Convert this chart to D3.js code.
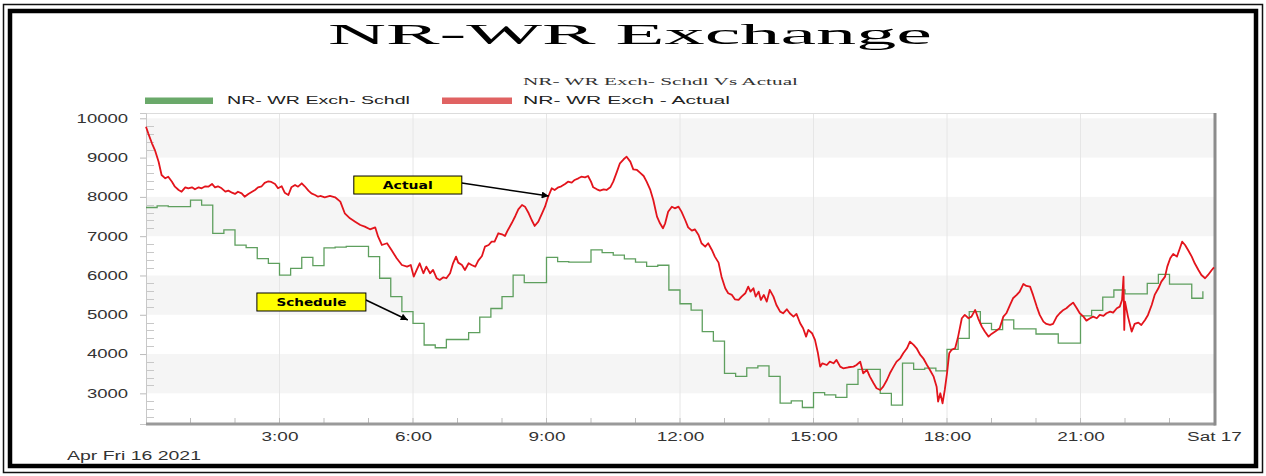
<!DOCTYPE html>
<html><head><meta charset="utf-8">
<script src="https://cdn.jsdelivr.net/npm/d3@7"></script>
<style>body{margin:0;background:#fff;} svg{display:block;}</style>
</head><body>
<svg id="chart" width="1266" height="476"></svg>
<script>
// ---------------- data ----------------
const chartTitle = "NR-WR Exchange";
const chartSubtitle = "NR- WR Exch- Schdl Vs Actual";
const seriesNames = ["NR- WR Exch- Schdl", "NR- WR Exch - Actual"];
const dateLabel = "Apr Fri 16 2021";

// schedule: one value per 15-minute block, starting 00:00
const schedValues = [
  7730,7770,7750,7750,7920,7790,7070,7160,6770,6710,6430,6310,
  6010,6180,6460,6250,6700,6720,6740,6740,6480,5930,5460,5080,
  4780,4230,4160,4370,4370,4545,4940,5160,5460,6010,5820,5820,
  6460,6350,6340,6340,6650,6580,6520,6420,6340,6230,6260,5630,
  5280,5120,4570,4330,3510,3430,3650,3700,3430,2750,2810,2640,
  3020,2960,2900,3230,3610,3610,3000,2700,3770,3610,3640,3570,
  4120,4400,5080,4780,4620,4870,4640,4640,4510,4510,4280,4280,
  4970,5110,5450,5630,5530,5530,5800,6030,5780,5780,5420,5600
];
const schedBlockMinutes = 15;

// actual: minutes from 00:00 and MW values
const actualMinutes = [
  0,3,8,12,17,21,26,30,35,39,44,48,53,57,62,66,71,75,80,84,89,93,97,102,107,111,116,120,124,129,
  133,138,143,147,151,156,160,165,169,174,178,183,187,192,196,201,205,210,214,219,223,228,232,235,
  241,248,255,262,268,275,282,289,295,302,309,313,318,325,331,338,345,352,357,361,365,369,374,378,
  383,387,392,396,401,405,410,414,418,421,426,430,435,439,444,448,453,457,462,466,470,475,480,484,
  488,493,498,502,507,511,516,520,524,529,534,538,542,547,551,556,560,565,569,574,578,583,587,592,
  596,600,603,608,612,617,621,626,630,635,639,644,648,653,657,662,666,671,675,680,684,687,689,693,
  697,700,704,709,713,718,722,727,731,736,740,745,749,754,758,763,767,772,776,781,785,790,794,799,
  803,808,812,815,819,822,826,829,833,837,841,846,850,855,859,864,868,873,877,882,886,890,893,898,
  902,906,909,912,918,922,927,931,936,940,947,954,958,963,967,972,976,981,985,990,994,999,1003,1008,
  1012,1017,1021,1026,1030,1035,1039,1044,1048,1053,1057,1062,1066,1068,1071,1074,1077,1080,1083,1086,
  1091,1095,1100,1104,1109,1113,1118,1122,1127,1131,1136,1140,1145,1151,1156,1160,1165,1169,1174,1178,
  1183,1187,1192,1196,1201,1205,1210,1214,1219,1223,1228,1232,1237,1241,1246,1250,1255,1259,1264,1268,
  1273,1277,1282,1286,1291,1295,1300,1304,1309,1313,1316,1318,1319,1320,1324,1329,1333,1338,1342,1347,
  1351,1356,1360,1365,1369,1374,1377,1381,1385,1390,1394,1397,1401,1405,1410,1414,1419,1423,1428,1432,
  1437,1440
];
const actualValues = [
  9786,9618,9364,9193,8896,8557,8473,8514,8387,8260,8176,8132,8244,8218,8244,8193,8244,8218,8270,8260,8329,8244,8270,8218,8132,8160,8107,8075,8132,8090,
  8005,8075,8132,8176,8244,8270,8356,8397,8380,8329,8218,8270,8107,8049,8244,8303,8260,8346,8270,8160,8090,8049,8005,8023,
  7990,8023,7990,7878,7583,7455,7370,7285,7242,7175,7225,6987,6776,6820,6649,6437,6267,6225,6267,5970,6140,6310,6056,6225,
  6056,6140,5929,5886,5954,5929,6056,6310,6480,6327,6267,6140,6310,6267,6225,6378,6497,6733,6776,6860,6860,7074,7048,7005,
  7158,7328,7514,7684,7794,7751,7583,7412,7260,7370,7583,7751,7990,8219,8176,8244,8270,8329,8387,8363,8431,8473,8514,8497,
  8531,8387,8244,8193,8160,8193,8176,8244,8387,8642,8855,8957,9023,8897,8702,8685,8617,8531,8387,8176,7920,7667,7497,7328,
  7200,7328,7624,7751,7709,7751,7624,7412,7226,7141,7175,7031,6820,6733,6820,6649,6480,6327,5970,5674,5547,5505,5394,5377,
  5462,5547,5716,5590,5674,5462,5590,5377,5505,5335,5632,5462,5250,5080,5038,5140,5038,4952,5021,4784,4657,4444,4614,4530,
  4360,4020,3680,3765,3722,3807,3765,3850,3680,3638,3664,3680,3722,3807,3511,3595,3425,3256,3129,3086,3171,3340,3511,3680,
  3807,3892,4020,4147,4317,4232,4147,3977,3892,3722,3595,3425,3171,2790,3002,2748,3086,3511,4020,4105,
  4147,4444,4911,4996,4911,4953,5123,4911,4699,4572,4444,4512,4572,4656,4953,5038,5250,5420,5505,5590,
  5784,5733,5716,5505,5208,4996,4826,4767,4741,4767,4953,5038,5123,5165,5250,5310,5165,5038,4953,4851,
  4911,4953,4911,4996,4970,5038,5080,5055,5165,5208,5377,5970,4614,5335,4953,4572,4767,4801,4741,4868,
  4996,5250,5505,5674,5843,5970,6225,6437,6547,6480,6692,6860,6776,6649,6480,6310,6140,6013,5929,6013,
  6140,6208
];

const yTickValues = [3000,4000,5000,6000,7000,8000,9000,10000];
const xTickMinutes = [180,360,540,720,900,1080,1260,1440];
const xTickLabels = ["3:00","6:00","9:00","12:00","15:00","18:00","21:00","Sat 17"];
const bandRanges = [[9000,10000],[7000,8000],[5000,6000],[3000,4000]];

// annotations: label, box centre (minutes, value), arrow tip (minutes, value)
const annotations = [
  {label:"Actual",   box:[353, 8302], tip:[543, 8022], w:108, h:18, textW:50},
  {label:"Schedule", box:[223, 5325], tip:[353, 4868], w:109, h:18, textW:70}
];

// ---------------- drawing ----------------
const svg = d3.select("#chart");
const W = 1266, H = 476;
const plot = {left:146, right:1214, top:113, bottom:424};
const sansFont = "'Liberation Sans', Arial, sans-serif";
const serifFont = "'Liberation Serif', 'Times New Roman', serif";

const x = d3.scaleLinear().domain([0, 1440]).range([plot.left, plot.right]);
const y = d3.scaleLinear().domain([2220, 10135]).range([plot.bottom, plot.top]);

function fitWidth(sel, w) {
  sel.attr("textLength", w).attr("lengthAdjust", "spacingAndGlyphs");
}
function stretch(sel, f) {
  sel.each(function(){
    const w = this.getComputedTextLength();
    this.setAttribute("textLength", w * f);
    this.setAttribute("lengthAdjust", "spacingAndGlyphs");
  });
}

svg.append("rect").attr("width", W).attr("height", H).attr("fill", "#fff");

// frame
svg.append("rect").attr("x", 3.5).attr("y", 4.5).attr("width", W - 7).attr("height", H - 8)
  .attr("fill", "none").attr("stroke", "#111").attr("stroke-width", 1.5);
svg.append("rect").attr("x", 10).attr("y", 11).attr("width", W - 20).attr("height", H - 21)
  .attr("fill", "none").attr("stroke", "#000").attr("stroke-width", 4.5);

// bands
svg.append("g").selectAll("rect").data(bandRanges).join("rect")
  .attr("x", plot.left).attr("width", plot.right - plot.left)
  .attr("y", d => y(d[1])).attr("height", d => y(d[0]) - y(d[1]))
  .attr("fill", "#f5f5f5");

// vertical grid
svg.append("g").selectAll("line").data(xTickMinutes.slice(0, -1)).join("line")
  .attr("x1", d => x(d)).attr("x2", d => x(d))
  .attr("y1", plot.top).attr("y2", plot.bottom)
  .attr("stroke", "#e6e6e6").attr("stroke-width", 1);

// top border line
svg.append("line").attr("x1", plot.left).attr("x2", plot.right)
  .attr("y1", plot.top + 0.5).attr("y2", plot.top + 0.5).attr("stroke", "#dcdcdc");

// minor y ticks (inside)
const yMinor = d3.range(2400, 10001, 200).filter(v => v % 1000 !== 0);
svg.append("g").selectAll("line").data(yMinor).join("line")
  .attr("x1", plot.left).attr("x2", plot.left + 8)
  .attr("y1", d => Math.round(y(d)) + 0.5).attr("y2", d => Math.round(y(d)) + 0.5)
  .attr("stroke", "#c8c8c8");

// minor x ticks (hourly, inside)
const xMinor = d3.range(60, 1440, 60);
svg.append("g").selectAll("line").data(xMinor).join("line")
  .attr("x1", d => x(d)).attr("x2", d => x(d))
  .attr("y1", plot.bottom - 6).attr("y2", plot.bottom)
  .attr("stroke", "#bdbdbd");

// y axis
const yAxis = svg.append("g").attr("transform", `translate(${plot.left},0)`)
  .call(d3.axisLeft(y).tickValues(yTickValues).tickFormat(d3.format("d")).tickSize(6).tickPadding(12));
yAxis.select(".domain").attr("stroke", "#c8c8c8");
yAxis.selectAll(".tick line").attr("stroke", "#bbb");
yAxis.selectAll("text").attr("font-family", sansFont).attr("font-size", 12).attr("fill", "#333");
stretch(yAxis.selectAll("text"), 1.54);

// x axis
const xAxis = svg.append("g").attr("transform", `translate(0,${plot.bottom})`)
  .call(d3.axisBottom(x).tickValues(xTickMinutes).tickFormat((d, i) => xTickLabels[i]).tickSize(0).tickPadding(8));
xAxis.select(".domain").remove();
xAxis.selectAll("text").attr("font-family", sansFont).attr("font-size", 12).attr("fill", "#333");
stretch(xAxis.selectAll("text"), 1.58);
svg.append("line").attr("x1", plot.left).attr("x2", plot.right + 1.5)
  .attr("y1", plot.bottom).attr("y2", plot.bottom)
  .attr("stroke", "#9a9a9a").attr("stroke-width", 3);
// right axis line
svg.append("line").attr("x1", plot.right + 1).attr("x2", plot.right + 1)
  .attr("y1", plot.top).attr("y2", plot.bottom + 1.5)
  .attr("stroke", "#8c8c8c").attr("stroke-width", 3);

// schedule line (step)
const schedData = schedValues.map((v, i) => [i * schedBlockMinutes, v]);
svg.append("path").datum(schedData)
  .attr("fill", "none").attr("stroke", "#5e9f5e").attr("stroke-width", 1.3)
  .attr("d", d3.line().x(d => x(d[0])).y(d => y(d[1])).curve(d3.curveStepAfter));

// actual line
const actualData = actualMinutes.map((m, i) => [m, actualValues[i]]);
svg.append("path").datum(actualData)
  .attr("fill", "none").attr("stroke", "#e3141c").attr("stroke-width", 1.8)
  .attr("stroke-linejoin", "round")
  .attr("d", d3.line().x(d => x(d[0])).y(d => y(d[1])));

// title & subtitle
fitWidth(svg.append("text").attr("x", 328).attr("y", 44)
  .attr("font-family", serifFont).attr("font-size", 29).attr("fill", "#000")
  .text(chartTitle), 604);
fitWidth(svg.append("text").attr("x", 523).attr("y", 85)
  .attr("font-family", serifFont).attr("font-size", 10.5).attr("fill", "#333")
  .text(chartSubtitle), 275);

// legend
const legendItems = [
  {name: seriesNames[0], color: "#6aa96a", sx: 145, sw: 68, tx: 227, tw: 183},
  {name: seriesNames[1], color: "#e06262", sx: 442, sw: 70, tx: 523, tw: 207}
];
legendItems.forEach(it => {
  svg.append("rect").attr("x", it.sx).attr("y", 97.5).attr("width", it.sw).attr("height", 6.5).attr("fill", it.color);
  fitWidth(svg.append("text").attr("x", it.tx).attr("y", 104)
    .attr("font-family", sansFont).attr("font-size", 11.5).attr("fill", "#222").text(it.name), it.tw);
});

// date label
fitWidth(svg.append("text").attr("x", 67).attr("y", 460)
  .attr("font-family", sansFont).attr("font-size", 12).attr("fill", "#333").text(dateLabel), 134);

// annotations
const defs = svg.append("defs");
defs.append("marker").attr("id", "ah").attr("viewBox", "0 0 10 10")
  .attr("refX", 10).attr("refY", 5).attr("markerWidth", 10).attr("markerHeight", 7)
  .attr("markerUnits", "userSpaceOnUse").attr("orient", "auto")
  .append("path").attr("d", "M0,0 L10,5 L0,10 z").attr("fill", "#000");

annotations.forEach(a => {
  const cx = x(a.box[0]), cy = y(a.box[1]);
  const tx = x(a.tip[0]), ty = y(a.tip[1]);
  svg.append("line").attr("x1", cx + a.w / 2).attr("y1", cy - 2)
    .attr("x2", tx).attr("y2", ty).attr("stroke", "#000").attr("stroke-width", 1.5)
    .attr("marker-end", "url(#ah)");
  svg.append("rect").attr("x", cx - a.w / 2).attr("y", cy - a.h / 2)
    .attr("width", a.w).attr("height", a.h)
    .attr("fill", "#ffff00").attr("stroke", "#000").attr("stroke-width", 1);
  fitWidth(svg.append("text").attr("x", cx).attr("y", cy + 3.6).attr("text-anchor", "middle")
    .attr("font-family", "'DejaVu Sans', Verdana, sans-serif").attr("font-weight", "bold")
    .attr("font-size", 10).attr("fill", "#000").text(a.label), a.textW);
});
</script>
</body></html>
